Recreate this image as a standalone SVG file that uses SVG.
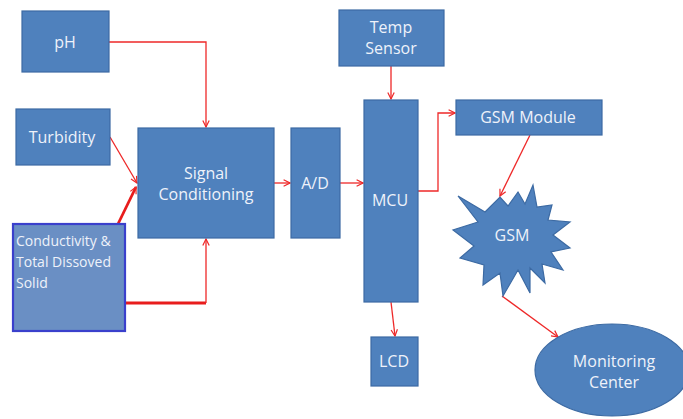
<svg xmlns="http://www.w3.org/2000/svg" width="683" height="419" viewBox="0 0 683 419">
<defs>
<style>
.box{fill:#4f81bd;stroke:#3c6aa3;stroke-width:1.2}
.t{font-family:"Open Sans","Liberation Sans",sans-serif;font-size:16px;fill:#eef2fa;text-anchor:middle}
.n{font-family:"Liberation Sans Narrow","Open Sans",sans-serif;font-size:14px;fill:#eef2fa}
.c{fill:none;stroke:#ee2828;stroke-width:1.3}
.ct{fill:none;stroke:#e81c1c;stroke-width:2.8}
</style>
<marker id="ah" viewBox="0 0 10 10" refX="9" refY="5" markerWidth="8" markerHeight="8" markerUnits="userSpaceOnUse" orient="auto">
<path d="M1,1 L9,5 L1,9" fill="none" stroke="#ee2828" stroke-width="1.5"/>
</marker>
</defs>
<rect width="683" height="419" fill="#ffffff"/>
<g id="connectors">
<path class="c" d="M109,42 H206 V127" marker-end="url(#ah)"/>
<path class="c" d="M110,137 L137,183" marker-end="url(#ah)"/>
<path class="ct" d="M118,224 L136,187" marker-end="url(#ah)"/>
<path class="ct" d="M124,303 H206"/>
<path class="c" d="M206,303 V239" marker-end="url(#ah)"/>
<path class="c" d="M274,183 H290" marker-end="url(#ah)"/>
<path class="c" d="M340,183 H363" marker-end="url(#ah)"/>
<path class="c" d="M391,66 V99" marker-end="url(#ah)"/>
<path class="c" d="M418,191 H438 V113 H455" marker-end="url(#ah)"/>
<path class="c" d="M530,135 L500,196" marker-end="url(#ah)"/>
<path class="c" d="M502,296 L558,337" marker-end="url(#ah)"/>
<path class="c" d="M391,302 L395,336" marker-end="url(#ah)"/>
</g>
<g id="ph"><rect class="box" x="22" y="11" width="87" height="61"/><text class="t" x="65" y="48">pH</text></g>
<g id="turbidity"><rect class="box" x="16" y="109" width="94" height="56"/><text class="t" x="62" y="143">Turbidity</text></g>
<g id="signal"><rect class="box" x="138" y="128" width="136" height="110"/><text class="t" x="206" y="179">Signal</text><text class="t" x="206" y="200">Conditioning</text></g>
<g id="ad"><rect class="box" x="291" y="128" width="49" height="110"/><text class="t" x="315" y="189">A/D</text></g>
<g id="conductivity"><rect x="13" y="224" width="112" height="107" fill="#6a8fc4" stroke="#3a40cc" stroke-width="2.2"/>
<text class="n" x="16" y="246">Conductivity &amp;</text>
<text class="n" x="16" y="267">Total Dissoved</text>
<text class="n" x="16" y="288">Solid</text></g>
<g id="temp"><rect class="box" x="339" y="10" width="105" height="56"/><text class="t" x="391" y="33">Temp</text><text class="t" x="391" y="54">Sensor</text></g>
<g id="mcu"><rect class="box" x="364" y="100" width="54" height="202"/><text class="t" x="390" y="206">MCU</text></g>
<g id="gsmmodule"><rect class="box" x="456" y="100" width="146" height="35"/><text class="t" x="528" y="123">GSM Module</text></g>
<g id="gsm"><polygon class="box" points="458,196 485,212 500,197 508,206 518,192 525,204 533,185 537,207 552,205 548,220 570,222 553,235 570,248 551,252 563,270 542,264 545,283 530,268 530,293 518,270 503,296 500,273 483,285 484,265 460,258 474,246 453,230 478,222"/><text class="t" x="512" y="241">GSM</text></g>
<g id="lcd"><rect class="box" x="371" y="337" width="47" height="49"/><text class="t" x="394" y="367">LCD</text></g>
<g id="monitoring"><ellipse class="box" cx="612" cy="370" rx="77" ry="46"/><text class="t" x="614" y="367">Monitoring</text><text class="t" x="614" y="388">Center</text></g>
</svg>
